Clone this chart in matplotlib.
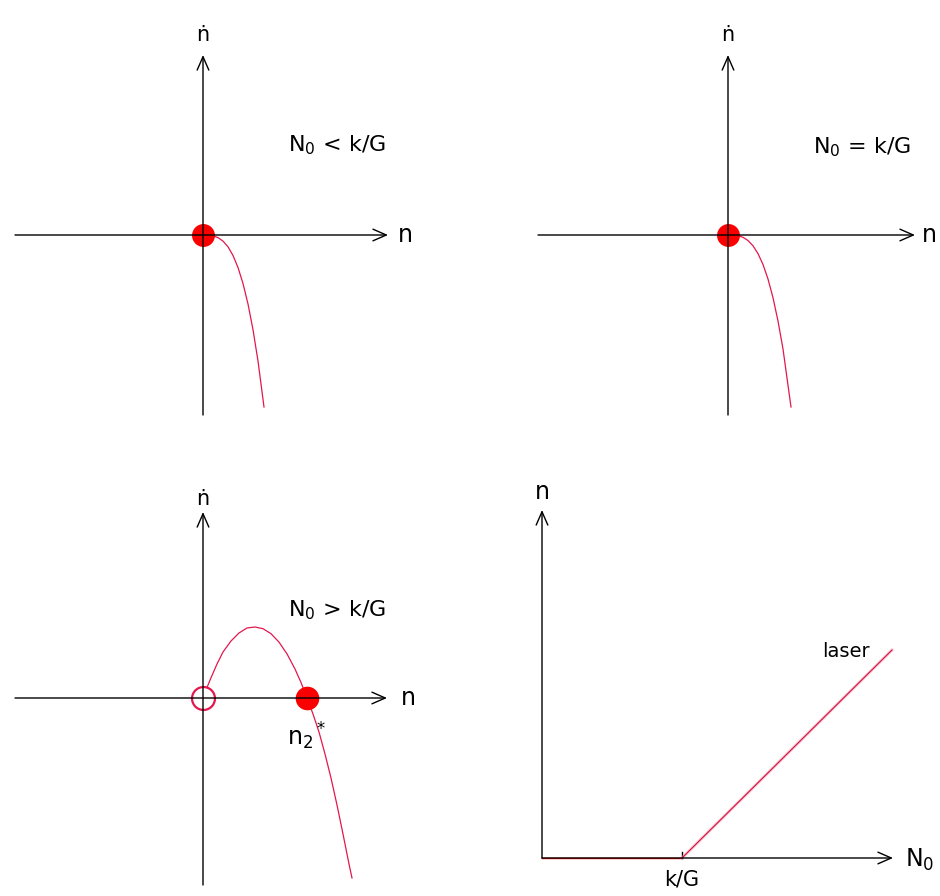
import numpy as np
import matplotlib
matplotlib.use("Agg")
import matplotlib.pyplot as plt

plt.rcParams['font.family'] = ['DejaVu Sans']
plt.rcParams['mathtext.default'] = 'regular'

# phase curves (n, ndot), one unit = 100 px on the sheet
n_below = [0.00, 0.05, 0.10, 0.15, 0.20, 0.25, 0.30, 0.35, 0.40, 0.45,
           0.50, 0.55, 0.61]
ndot_below = [0.000, -0.001, -0.008, -0.026, -0.061, -0.118, -0.205, -0.325,
              -0.485, -0.690, -0.947, -1.260, -1.720]

n_equal = [0.00, 0.05, 0.10, 0.15, 0.20, 0.25, 0.30, 0.35, 0.40, 0.45,
           0.50, 0.55, 0.63]
ndot_equal = [0.000, -0.001, -0.007, -0.023, -0.055, -0.108, -0.186, -0.295,
              -0.440, -0.627, -0.860, -1.140, -1.720]

n_above = [0.04, 0.08, 0.14, 0.20, 0.28, 0.36, 0.44, 0.52, 0.60, 0.68, 0.76,
           0.84, 0.92, 0.98, 1.04, 1.10, 1.16, 1.22, 1.28, 1.34, 1.40, 1.46,
           1.49]
ndot_above = [0.105, 0.202, 0.340, 0.460, 0.570, 0.650, 0.700, 0.710, 0.693,
              0.643, 0.559, 0.441, 0.290, 0.155, 0.000, -0.160, -0.340,
              -0.560, -0.800, -1.070, -1.360, -1.660, -1.800]
n2_star = 1.04

# n vs N0 bifurcation
kG = 1.40
N0_off = [0.00, kG]
n_off = [0.00, 0.00]
N0_laser = [kG, 3.50]
n_laser = [0.00, 2.08]

W, H = 940, 896
S = 100.0  # pixels per unit
curve_red = '#e3174e'
dot_red = '#fa0000'

fig = plt.figure(figsize=(W / 100, H / 100), dpi=100)
fig.patch.set_facecolor('white')


def make_axes(ox, oy):
    # transparent full-figure axes, origin placed at pixel (ox, oy) from top-left
    ax = fig.add_axes([0, 0, 1, 1])
    ax.set_xlim(-ox / S, (W - ox) / S)
    ax.set_ylim((oy - H) / S, oy / S)
    ax.axis('off')
    ax.patch.set_alpha(0)
    return ax


def arrow(ax, start, tip):
    ax.annotate('', xy=tip, xytext=start,
                arrowprops=dict(arrowstyle='->,head_length=0.8,head_width=0.35',
                                mutation_scale=12, lw=1.0, color='black',
                                shrinkA=0, shrinkB=0))


def phase_axes(ax, left, right, bottom, top, xlab_x, ylab_y):
    arrow(ax, (left, 0), (right, 0))
    arrow(ax, (0, bottom), (0, top))
    ax.text(xlab_x, 0, 'n', fontsize=17, ha='center', va='center')
    ax.text(0, ylab_y, 'ṅ', fontsize=15, ha='center', va='center')


# top-left: N0 < k/G
ax1 = make_axes(203, 235)
phase_axes(ax1, -1.88, 1.85, -1.80, 1.80, 2.02, 2.00)
ax1.plot(n_below, ndot_below, color=curve_red, lw=0.9)
ax1.plot([0], [0], 'o', ms=16.5, color=dot_red, mec='none')
ax1.text(1.34, 0.90, r'N$_0$ < k/G', fontsize=16, ha='center', va='center')

# top-right: N0 = k/G
ax2 = make_axes(728, 235)
phase_axes(ax2, -1.90, 1.87, -1.80, 1.80, 2.01, 2.00)
ax2.plot(n_equal, ndot_equal, color=curve_red, lw=0.9)
ax2.plot([0], [0], 'o', ms=16.5, color=dot_red, mec='none')
ax2.text(1.34, 0.88, r'N$_0$ = k/G', fontsize=16, ha='center', va='center')

# bottom-left: N0 > k/G
ax3 = make_axes(203, 698)
phase_axes(ax3, -1.88, 1.84, -1.87, 1.86, 2.05, 1.99)
ax3.plot(n_above, ndot_above, color=curve_red, lw=0.9)
ax3.plot([0], [0], 'o', ms=16.5, mfc='none', mec=curve_red, mew=1.6)
ax3.plot([n2_star], [0], 'o', ms=17, color=dot_red, mec='none')
ax3.text(n2_star, -0.38, r'n$_2$$^*$', fontsize=17, ha='center', va='center')
ax3.text(1.34, 0.88, r'N$_0$ > k/G', fontsize=16, ha='center', va='center')

# bottom-right: n against N0
ax4 = make_axes(542, 858)
arrow(ax4, (0, 0), (3.51, 0))
arrow(ax4, (0, 0), (0, 3.48))
ax4.plot(N0_off, n_off, color='#ff0000', lw=1.0)
ax4.plot([kG, kG], [0, 0.06], color='black', lw=1.0)
ax4.plot(N0_laser, n_laser, color='#f4a0b8', lw=2.2, alpha=0.6)
ax4.plot(N0_laser, n_laser, color='#d2143f', lw=0.8)
ax4.text(kG, -0.21, 'k/G', fontsize=15, ha='center', va='center')
ax4.text(3.78, -0.02, r'N$_0$', fontsize=17, ha='center', va='center')
ax4.text(0.0, 3.66, 'n', fontsize=17, ha='center', va='center')
ax4.text(3.04, 2.07, 'laser', fontsize=14, ha='center', va='center')

fig.savefig('out.png', dpi=100, facecolor='white')
